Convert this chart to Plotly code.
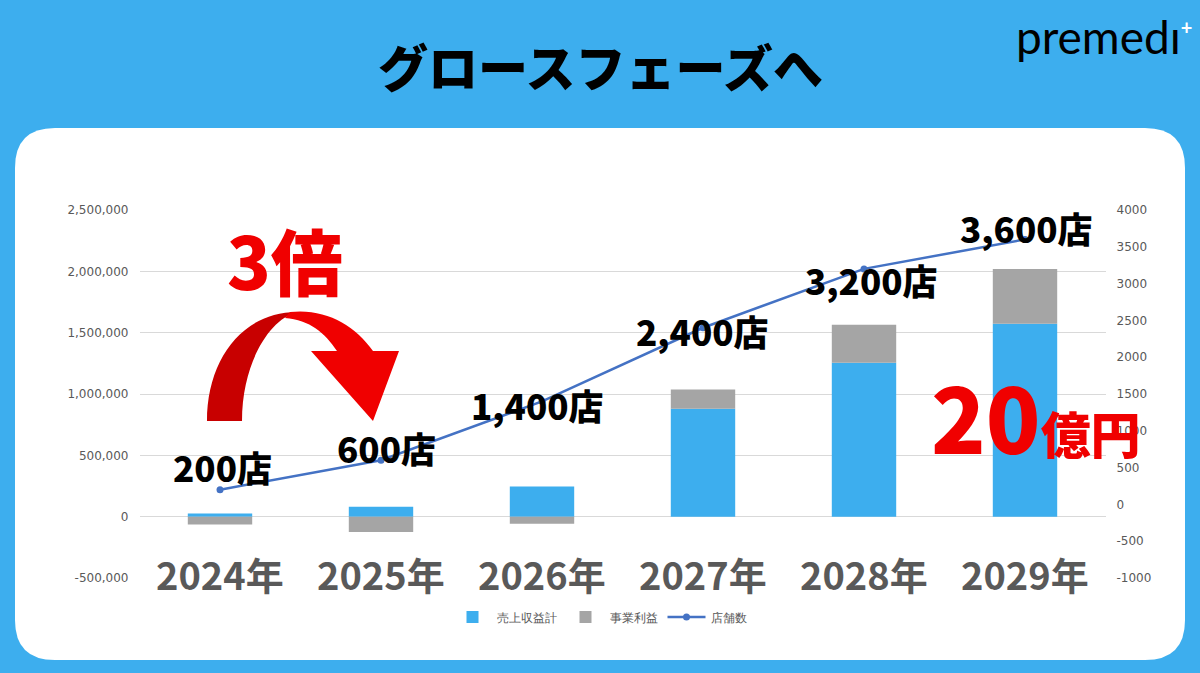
import plotly.graph_objects as go

W, H = 1200, 673

years = ["2024年", "2025年", "2026年", "2027年", "2028年", "2029年"]
revenue = [25000, 81000, 245000, 879000, 1254000, 1572000]
profit = [-63000, -125000, -57000, 157000, 310000, 448000]
stores = [200, 600, 1400, 2400, 3200, 3600]
store_labels = ["200店", "600店", "1,400店", "2,400店", "3,200店", "3,600店"]
left_ticks = [-500000, 0, 500000, 1000000, 1500000, 2000000, 2500000]
right_ticks = [-1000, -500, 0, 500, 1000, 1500, 2000, 2500, 3000, 3500, 4000]

BLUE = "#3DAEEE"
GRAY = "#A5A5A5"
LINE = "#4472C4"
RED = "#F00000"
DARKRED = "#C80000"
TICK = "#595959"
JP = "Noto Sans CJK JP"

def px(x):
    return x / W

def py(y):
    return 1 - y / H

def path(points_cmds):
    out = []
    for cmd in points_cmds:
        c = cmd[0]
        pts = cmd[1:]
        s = c
        for (x, y) in pts:
            s += f" {px(x):.5f},{py(y):.5f}"
        out.append(s)
    return " ".join(out) + " Z"

fig = go.Figure()
fig.add_trace(go.Bar(x=years, y=revenue, name="売上収益計", marker=dict(color=BLUE, line=dict(width=0))))
fig.add_trace(go.Bar(x=years, y=profit, name="事業利益", marker=dict(color=GRAY, line=dict(width=0))))
fig.add_trace(go.Scatter(x=years, y=stores, name="店舗数", yaxis="y2", mode="lines+markers",
                         line=dict(color=LINE, width=2.5), marker=dict(size=7, color=LINE)))

shapes = []
x0, x1, y0, y1, r = 15, 1185, 128, 660, 40
card = (f"M {px(x0+r)},{py(y0)} L {px(x1-r)},{py(y0)} Q {px(x1)},{py(y0)} {px(x1)},{py(y0+r)} "
        f"L {px(x1)},{py(y1-r)} Q {px(x1)},{py(y1)} {px(x1-r)},{py(y1)} L {px(x0+r)},{py(y1)} "
        f"Q {px(x0)},{py(y1)} {px(x0)},{py(y1-r)} L {px(x0)},{py(y0+r)} Q {px(x0)},{py(y0)} {px(x0+r)},{py(y0)} Z")
shapes.append(dict(type="path", path=card, xref="paper", yref="paper", fillcolor="white",
                   line=dict(width=0), layer="below"))
left_part = path([("M", (207, 421)), ("C", (207, 360), (242, 312), (297, 312)),
                  ("C", (268, 320), (242, 365), (242, 421))])
right_part = path([("M", (290, 312)), ("C", (325, 308), (355, 325), (373, 351)), ("L", (399, 351)),
                   ("L", (373, 421)), ("L", (311, 351)), ("L", (337, 351)),
                   ("C", (325, 333), (310, 320), (285, 318))])
shapes.append(dict(type="path", path=left_part, xref="paper", yref="paper", fillcolor=DARKRED,
                   line=dict(width=0), layer="above"))
shapes.append(dict(type="path", path=right_part, xref="paper", yref="paper", fillcolor=RED,
                   line=dict(width=0), layer="above"))

def txt(text, x, y, size, color, family=JP, weight=900, xref="paper", yref="paper", **kw):
    return dict(text=text, x=x, y=y, xref=xref, yref=yref, showarrow=False, xanchor="center",
                yanchor="middle", font=dict(family=family, size=size, color=color, weight=weight), **kw)

ann = []
ann.append(txt("グロースフェーズへ", 0.5, py(65), 50, "black"))
ann.append(txt("premedı<sup><span style='font-size:20px;color:white'><b>+</b></span></sup>",
               px(1104), py(36), 46, "black", family="Lato", weight=400))
for yr in years:
    ann.append(txt(yr, yr, py(573), 38, TICK, weight=700, xref="x"))
offsets = [(2, -23), (5, -13), (-5, 3), (-1, 3), (7, 11), (1, -12)]
for yr, v, lab, (dx, dy) in zip(years, stores, store_labels, offsets):
    ann.append(txt(lab, yr, v, 35, "black", xref="x", yref="y2", xshift=dx, yshift=-dy))
ann.append(txt("3倍", px(285), py(258), 72, RED))
ann.append(txt("20<span style='font-size:50px'>億円</span>", px(1036), py(415), 90, RED))

fig.update_layout(
    width=W, height=H, autosize=False,
    margin=dict(l=0, r=0, t=0, b=0, autoexpand=False),
    paper_bgcolor=BLUE, plot_bgcolor="rgba(0,0,0,0)",
    barmode="relative", bargap=0.6,
    showlegend=True,
    legend=dict(orientation="h", x=0.5, xanchor="center", y=py(617), yanchor="middle",
                font=dict(family="DejaVu Sans", size=12, color=TICK), bgcolor="rgba(0,0,0,0)",
                itemwidth=38),
    xaxis=dict(domain=[px(139.5), px(1105.5)], showticklabels=False, showgrid=False, zeroline=False,
               showline=False, ticks=""),
    yaxis=dict(domain=[py(578), py(210)], range=[-500000, 2500000], tickvals=left_ticks,
               ticktext=[f"{v:,}" for v in left_ticks],
               showgrid=True, gridcolor="#D9D9D9", gridwidth=1, zeroline=True,
               zerolinecolor="#D9D9D9", zerolinewidth=1, automargin=False,
               tickfont=dict(family="DejaVu Sans", size=12, color=TICK), ticklabelstandoff=10),
    yaxis2=dict(overlaying="y", side="right", range=[-1000, 4000], tickvals=right_ticks,
                ticktext=[str(v) for v in right_ticks], showgrid=False, zeroline=False, automargin=False,
                tickfont=dict(family="DejaVu Sans", size=12, color=TICK), ticklabelstandoff=10),
    shapes=shapes, annotations=ann,
)

fig.write_html("out.html", config={"displayModeBar": False},
               post_script="document.body.style.margin='0';document.body.style.background='#3DAEEE';")
